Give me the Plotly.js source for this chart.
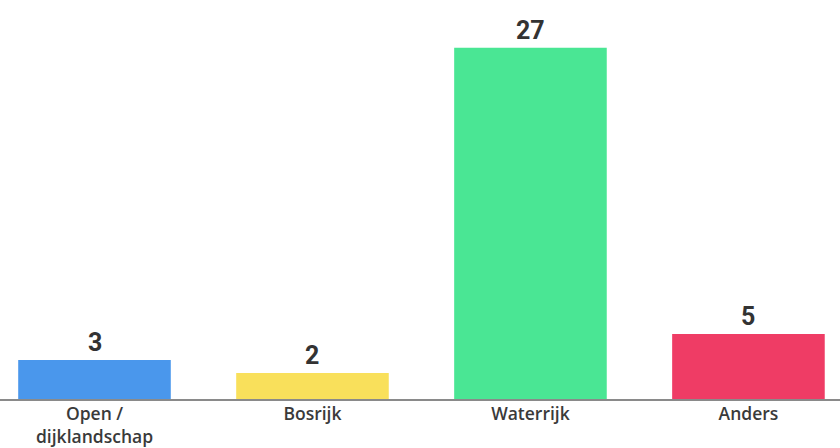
<!DOCTYPE html>
<html><head><meta charset="utf-8">
<script src="https://cdn.plot.ly/plotly-3.0.1.min.js"></script>
<style>html,body{margin:0;padding:0;background:#fff;}#chart{width:840px;height:448px;}</style>
</head><body><div id="chart"></div>
<script>
const categories = ["Open /<br>dijklandschap", "Bosrijk", "Waterrijk", "Anders"];
const values = [3, 2, 27, 5];
const colors = ["#4a97ec", "#f9e05b", "#4ae694", "#ef3c65"];

const trace = {
  type: "bar",
  x: categories,
  y: values,
  marker: {color: colors},
  width: 0.7,
  hoverinfo: "none"
};

const annotations = categories.map((c, i) => ({
  x: c, y: values[i], xref: "x", yref: "y",
  text: String(values[i]), showarrow: false,
  yanchor: "bottom", yshift: 1,
  font: {family: "Roboto, sans-serif", size: 25, color: "#333333", weight: 700}
}));

const layout = {
  width: 840, height: 448,
  margin: {l: 0, r: 0, t: 0, b: 49},
  paper_bgcolor: "#ffffff", plot_bgcolor: "#ffffff",
  showlegend: false,
  xaxis: {
    range: [-0.4335, 3.42],
    showline: true, linecolor: "#8a8a8a", linewidth: 2,
    ticks: "", showgrid: false, zeroline: false,
    tickfont: {family: "Open Sans, sans-serif", size: 17.5, color: "#3a3a3a", weight: 600},
    ticklabelstandoff: -2
  },
  yaxis: {
    range: [0, 30.66], visible: false, showgrid: false, zeroline: false
  },
  annotations: annotations
};

Plotly.newPlot("chart", [trace], layout, {displayModeBar: false, staticPlot: true});
</script></body></html>
